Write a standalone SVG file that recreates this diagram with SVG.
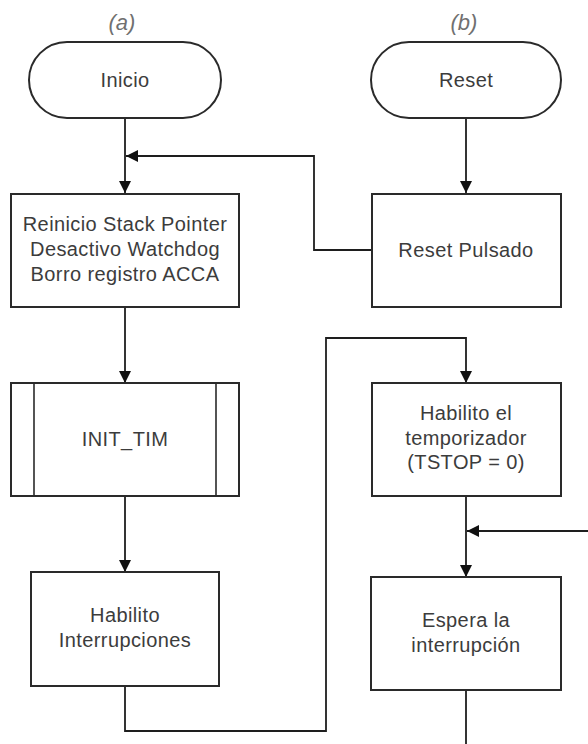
<svg xmlns="http://www.w3.org/2000/svg" width="588" height="744" viewBox="0 0 588 744">
  <style>
    .shape { fill: #ffffff; stroke: #2a2a2a; stroke-width: 2; }
    .inner { fill: none; stroke: #2a2a2a; stroke-width: 1.6; }
    .wire { fill: none; stroke: #1e1e1e; stroke-width: 1.8; }
    .lbl { font-family: "Liberation Sans", Arial, sans-serif; font-size: 20px; fill: #3c3c3c; text-anchor: middle; letter-spacing: 0.4px; }
    .cap { font-family: "Liberation Sans", Arial, sans-serif; font-size: 22px; font-style: italic; fill: #707070; text-anchor: middle; }
  </style>
  <defs>
    <marker id="arrow" viewBox="0 0 12 12" refX="12" refY="6" markerWidth="12" markerHeight="12" markerUnits="userSpaceOnUse" orient="auto">
      <path d="M0,0 L12,6 L0,12 Z" fill="#111111"/>
    </marker>
  </defs>

  <rect width="588" height="744" fill="#ffffff"/>

  <!-- column captions -->
  <text class="cap" x="122" y="30">(a)</text>
  <text class="cap" x="464" y="30">(b)</text>

  <!-- connectors -->
  <g id="connectors">
    <line class="wire" x1="125" y1="118" x2="125" y2="193" marker-end="url(#arrow)"/>
    <polyline class="wire" points="372,250 314,250 314,156 126,156" marker-end="url(#arrow)"/>
    <line class="wire" x1="466" y1="118" x2="466" y2="193" marker-end="url(#arrow)"/>
    <line class="wire" x1="125" y1="307" x2="125" y2="383" marker-end="url(#arrow)"/>
    <line class="wire" x1="125" y1="496" x2="125" y2="572" marker-end="url(#arrow)"/>
    <polyline class="wire" points="125,686 125,731 326,731 326,338 466,338 466,383" marker-end="url(#arrow)"/>
    <line class="wire" x1="466" y1="496" x2="466" y2="577" marker-end="url(#arrow)"/>
    <line class="wire" x1="590" y1="531" x2="467" y2="531" marker-end="url(#arrow)"/>
    <line class="wire" x1="466" y1="690" x2="466" y2="746"/>
  </g>

  <!-- nodes -->
  <g id="inicio">
    <rect class="shape" x="29" y="42" width="192" height="76" rx="38" ry="38"/>
    <text class="lbl" x="125" y="87">Inicio</text>
  </g>

  <g id="reset">
    <rect class="shape" x="371" y="42" width="190" height="76" rx="38" ry="38"/>
    <text class="lbl" x="466" y="87">Reset</text>
  </g>

  <g id="reinicio">
    <rect class="shape" x="11" y="194" width="228" height="113"/>
    <text class="lbl" x="125" y="231">Reinicio Stack Pointer</text>
    <text class="lbl" x="125" y="256">Desactivo Watchdog</text>
    <text class="lbl" x="125" y="281">Borro registro ACCA</text>
  </g>

  <g id="reset-pulsado">
    <rect class="shape" x="372" y="194" width="189" height="113"/>
    <text class="lbl" x="466" y="257">Reset Pulsado</text>
  </g>

  <g id="init-tim">
    <rect class="shape" x="11" y="383" width="228" height="113"/>
    <line class="inner" x1="34" y1="383" x2="34" y2="496"/>
    <line class="inner" x1="216" y1="383" x2="216" y2="496"/>
    <text class="lbl" x="125" y="446">INIT_TIM</text>
  </g>

  <g id="temporizador">
    <rect class="shape" x="372" y="383" width="189" height="113"/>
    <text class="lbl" x="466" y="420">Habilito el</text>
    <text class="lbl" x="466" y="445">temporizador</text>
    <text class="lbl" x="466" y="469">(TSTOP = 0)</text>
  </g>

  <g id="interrupciones">
    <rect class="shape" x="31" y="572" width="188" height="114"/>
    <text class="lbl" x="125" y="622">Habilito</text>
    <text class="lbl" x="125" y="647">Interrupciones</text>
  </g>

  <g id="espera">
    <rect class="shape" x="371" y="577" width="190" height="113"/>
    <text class="lbl" x="466" y="627">Espera la</text>
    <text class="lbl" x="466" y="652">interrupción</text>
  </g>
</svg>
